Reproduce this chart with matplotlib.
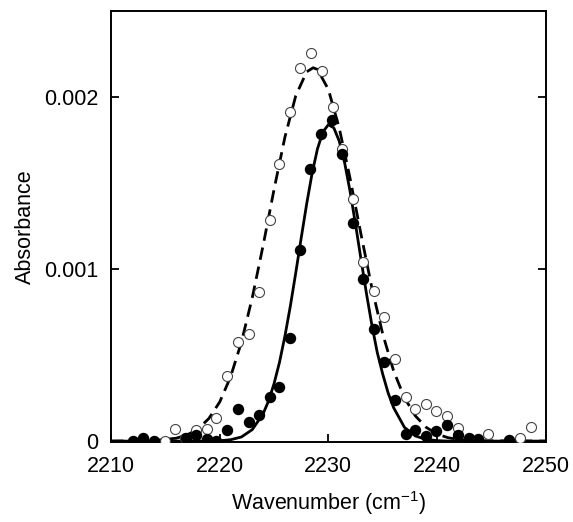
import matplotlib.pyplot as plt

plt.rcParams['font.family'] = ['Liberation Sans', 'DejaVu Sans']
plt.rcParams['mathtext.fontset'] = 'custom'
plt.rcParams['mathtext.rm'] = 'Liberation Sans'

# measured points (filled = sample 1, open = sample 2)
filled_x = [2212.05, 2212.97, 2213.96, 2216.9, 2217.8, 2218.8, 2219.7, 2220.7, 2221.7,
            2222.7, 2223.6, 2224.6, 2225.5, 2226.5, 2227.4, 2228.3, 2229.3, 2230.3,
            2231.3, 2232.3, 2233.2, 2234.2, 2235.1, 2236.1, 2237.1, 2238.0, 2239.0,
            2239.9, 2240.9, 2241.9, 2242.9, 2243.8, 2246.6]
filled_y = [0.0, 0.00002, 0.0, 0.000016, 0.000035, 0.00001, 0.0, 0.000064, 0.000184,
            0.000112, 0.00015, 0.000258, 0.000316, 0.000597, 0.00111, 0.00158, 0.001785, 0.001866,
            0.001669, 0.00127, 0.00094, 0.00065, 0.000458, 0.000238, 0.00004, 0.000064, 0.000029,
            0.00006, 0.000093, 0.000035, 0.000016, 0.000012, 0.000006]

open_x = [2214.97, 2215.9, 2216.8, 2217.8, 2218.8, 2219.7, 2220.7, 2221.7, 2222.7,
          2223.6, 2224.6, 2225.5, 2226.5, 2227.4, 2228.4, 2229.4, 2230.4, 2231.3,
          2232.3, 2233.2, 2234.2, 2235.1, 2236.1, 2237.1, 2238.0, 2239.0, 2239.9,
          2240.9, 2241.9, 2244.7, 2247.6, 2248.6]
open_y = [0.0, 0.00007, 0.00002, 0.000064, 0.000073, 0.000132, 0.000378, 0.000577, 0.00062,
          0.000868, 0.001285, 0.00161, 0.00191, 0.002166, 0.002254, 0.002153, 0.001944, 0.0017,
          0.00141, 0.00104, 0.000874, 0.000723, 0.000477, 0.000258, 0.000184, 0.000215, 0.000176,
          0.000145, 0.000077, 0.00004, 0.00002, 0.00008]

# fitted curves
solid_x = [2210, 2219, 2220, 2221, 2222, 2223, 2224, 2224.5, 2225, 2225.5, 2226, 2226.5,
           2227, 2227.5, 2228, 2228.5, 2229, 2229.5, 2230, 2230.5, 2231, 2231.5, 2232,
           2232.5, 2233, 2233.5, 2234, 2234.5, 2235, 2235.5, 2236, 2237, 2238, 2239,
           2240, 2241, 2250]
solid_y = [0.0, 0.0, 0.000002, 0.000008, 0.000024, 0.000067, 0.000159, 0.000234, 0.000333,
           0.000457, 0.000609, 0.000784, 0.000978, 0.00118, 0.001377, 0.001555, 0.001699,
           0.001797, 0.001839, 0.001821, 0.001744, 0.001617, 0.001451, 0.00126, 0.001058,
           0.00086, 0.000676, 0.000515, 0.00039, 0.00028, 0.000195, 0.00008, 0.00003,
           0.00001, 0.000003, 0.0, 0.0]

dash_x = [2210, 2214, 2216, 2217, 2218, 2219, 2220, 2221, 2222, 2223, 2224, 2225, 2226,
          2227, 2228, 2228.6, 2229, 2230, 2231, 2232, 2233, 2234, 2235, 2236, 2237, 2238,
          2239, 2240, 2241, 2242, 2244, 2250]
dash_y = [0.0, 0.000003, 0.000017, 0.000036, 0.00007, 0.000131, 0.000227, 0.000373,
          0.000575, 0.000834, 0.001138, 0.001462, 0.001766, 0.002007, 0.002146, 0.00217,
          0.00216, 0.002044, 0.00182, 0.001526, 0.001203, 0.000892, 0.000623, 0.000409,
          0.000252, 0.000147, 0.00008, 0.000041, 0.00002, 0.000009, 0.000002, 0.0]

xticks = [2210, 2220, 2230, 2240, 2250]
yticks = [0, 0.001, 0.002]
ytick_labels = ['0', '0.001', '0.002']

fig = plt.figure(figsize=(5.73, 5.22), dpi=100)
ax = fig.add_axes([0.1937, 0.1533, 0.7587, 0.8257])

ax.plot(dash_x, dash_y, color='black', lw=2.0, ls=(0, (4.5, 2.5)), zorder=2)
ax.plot(solid_x, solid_y, color='black', lw=2.0, zorder=2)
ax.plot(open_x, open_y, 'o', ms=7.2, mfc='white', mec='#444444', mew=0.8, zorder=3)
ax.plot(filled_x, filled_y, 'o', ms=7.2, color='black', zorder=4)

ax.set_xlim(2210, 2250)
ax.set_ylim(-0.000005, 0.0025)
ax.set_xticks(xticks)
ax.set_xticklabels([str(t) for t in xticks])
ax.set_yticks(yticks)
ax.set_yticklabels(ytick_labels)
ax.tick_params(direction='in', length=6, width=1.3, labelsize=15.5, right=True)
ax.tick_params(axis='x', pad=10)
ax.tick_params(axis='y', pad=9)

for s in ax.spines.values():
    s.set_linewidth(1.4)

ax.set_xlabel('Wavenumber (cm$^{\\mathregular{-1}}$)', fontsize=15.5, labelpad=9)
ax.set_ylabel('Absorbance', fontsize=15.5, labelpad=6)

plt.savefig('out.png', dpi=100)
plt.close(fig)
